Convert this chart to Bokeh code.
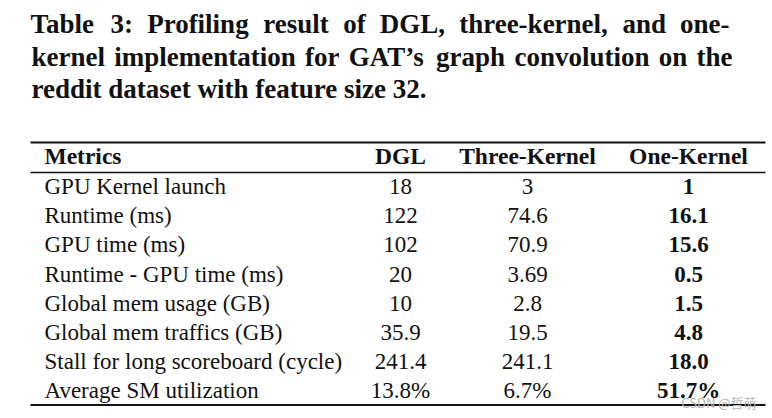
from bokeh.plotting import figure
from bokeh.models import Range1d
from bokeh.core.properties import value
from bokeh.embed import file_html
from bokeh.resources import INLINE

title_lines = [
    "Table 3: Profiling result of DGL, three-kernel, and one-",
    "kernel implementation for GAT\u2019s graph convolution on the",
    "reddit dataset with feature size 32.",
]
columns = ["Metrics", "DGL", "Three-Kernel", "One-Kernel"]
metrics = [
    "GPU Kernel launch",
    "Runtime (ms)",
    "GPU time (ms)",
    "Runtime - GPU time (ms)",
    "Global mem usage (GB)",
    "Global mem traffics (GB)",
    "Stall for long scoreboard (cycle)",
    "Average SM utilization",
]
dgl = ["18", "122", "102", "20", "10", "35.9", "241.4", "13.8%"]
three_kernel = ["3", "74.6", "70.9", "3.69", "2.8", "19.5", "241.1", "6.7%"]
one_kernel = ["1", "16.1", "15.6", "0.5", "1.5", "4.8", "18.0", "51.7%"]
watermark = "CSDN @\u54f2\u840c"

# ---- approximate glyph advance widths (Times/Liberation Serif Bold, 1/1000 em)
_BOLD = dict(zip("abcdefghijklmnopqrstuvwxyz",
                 [500, 556, 444, 556, 444, 333, 500, 556, 278, 333, 556, 278, 833,
                  556, 500, 556, 556, 444, 389, 333, 556, 500, 722, 500, 500, 444]))
_BOLD.update(zip("ABCDEFGHIJKLMNOPQRSTUVWXYZ",
                 [722, 667, 722, 722, 667, 611, 778, 778, 389, 500, 778, 667, 944,
                  722, 778, 611, 778, 722, 556, 667, 722, 722, 1000, 722, 722, 667]))
_BOLD.update({c: 500 for c in "0123456789"})
_BOLD.update({":": 333, ",": 250, ".": 250, "-": 333, "\u2019": 333, " ": 250})


def text_w(s, size):
    return sum(_BOLD.get(c, 500) for c in s) * size / 1000.0


def justify(line, x0, x1, size):
    words = line.split(" ")
    widths = [text_w(w, size) for w in words]
    gap = (x1 - x0 - sum(widths)) / (len(words) - 1)
    xs, x = [], x0
    for w in widths:
        xs.append(x)
        x += w + gap
    return words, xs


W, H = 772, 418
p = figure(width=W, height=H, output_backend="svg", toolbar_location=None,
           x_range=Range1d(0, W), y_range=Range1d(H, 0), min_border=0)
p.axis.visible = False
p.grid.visible = False
p.outline_line_color = None
p.background_fill_color = "white"

SERIF = value("Liberation Serif")
INK = "#111111"
TS = 27
TITLE_SIZE = f"{TS}px"
HEAD_SIZE = "23.5px"
BODY_SIZE = "23px"

# title: first two lines justified, last line ragged
title_y = [23.5, 56.5, 88.5]
for (line, x0, x1), ty in zip([(title_lines[0], 30, 729), (title_lines[1], 31, 732)], title_y):
    words, xs = justify(line, x0, x1, TS)
    p.text(x=xs, y=[ty] * len(words), text=words, text_font=SERIF,
           text_font_size=TITLE_SIZE, text_font_style="bold", text_color=INK,
           text_baseline="middle", text_align="left")
p.text(x=[31], y=[title_y[2]], text=[title_lines[2]], text_font=SERIF,
       text_font_size=TITLE_SIZE, text_font_style="bold", text_color=INK,
       text_baseline="middle", text_align="left")

# table geometry
left, right = 30, 765
col_x = [44, 400, 527, 688]
header_y = 155
row0 = 186
step = 29.2
row_y = [row0 + step * i for i in range(len(metrics))]

# rules
p.segment(x0=[left], y0=[142], x1=[right], y1=[142], line_color=INK, line_width=2)
p.segment(x0=[left], y0=[172], x1=[right], y1=[172], line_color=INK, line_width=1.5)
p.segment(x0=[left], y0=[404.5], x1=[right], y1=[404.5], line_color=INK, line_width=2)

# header
p.text(x=[col_x[0]], y=[header_y], text=[columns[0]], text_font=SERIF,
       text_font_size=HEAD_SIZE, text_font_style="bold", text_color=INK,
       text_baseline="middle", text_align="left")
p.text(x=col_x[1:], y=[header_y] * 3, text=columns[1:], text_font=SERIF,
       text_font_size=HEAD_SIZE, text_font_style="bold", text_color=INK,
       text_baseline="middle", text_align="center")

# body
p.text(x=[col_x[0]] * len(metrics), y=row_y, text=metrics, text_font=SERIF,
       text_font_size=BODY_SIZE, text_color=INK, text_baseline="middle",
       text_align="left")
p.text(x=[col_x[1]] * len(dgl), y=row_y, text=dgl, text_font=SERIF,
       text_font_size=BODY_SIZE, text_color=INK, text_baseline="middle",
       text_align="center")
p.text(x=[col_x[2]] * len(three_kernel), y=row_y, text=three_kernel, text_font=SERIF,
       text_font_size=BODY_SIZE, text_color=INK, text_baseline="middle",
       text_align="center")
p.text(x=[col_x[3]] * len(one_kernel), y=row_y, text=one_kernel, text_font=SERIF,
       text_font_size=BODY_SIZE, text_font_style="bold", text_color=INK,
       text_baseline="middle", text_align="center")

# watermark
p.text(x=[756], y=[402], text=[watermark], text_font=value("Noto Sans CJK SC"),
       text_font_size="13px", text_color="#b5b5b5", text_baseline="middle",
       text_align="right")

open("out.html", "w").write(file_html(p, INLINE))
